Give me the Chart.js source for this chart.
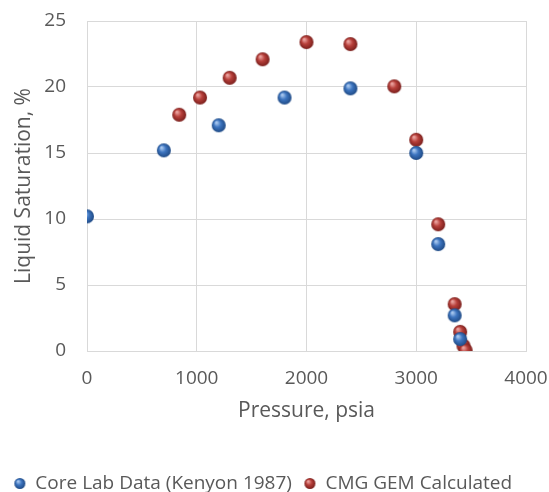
<!DOCTYPE html>
<html>
<head>
<meta charset="utf-8">
<script src="https://cdn.jsdelivr.net/npm/chart.js@4"></script>
<style>
  html, body { margin: 0; padding: 0; background: #fff; }
  #wrap { width: 549px; height: 492px; }
</style>
</head>
<body>
<div id="wrap"><canvas id="chart" width="549" height="492"></canvas></div>
<script>
// Données
const coreLabPressure = [0, 700, 1200, 1800, 2400, 3000, 3200, 3350, 3400];
const coreLabSat      = [10.2, 15.2, 17.1, 19.2, 19.9, 15.0, 8.1, 2.7, 0.9];

const gemPressure = [840, 1030, 1300, 1600, 2000, 2400, 2800, 3000, 3200, 3350, 3400, 3430, 3450];
const gemSat      = [17.9, 19.2, 20.7, 22.1, 23.4, 23.25, 20.05, 16.0, 9.6, 3.55, 1.45, 0.4, 0.05];

const xTicks = [0, 1000, 2000, 3000, 4000];
const yTicks = [0, 5, 10, 15, 20, 25];

const seriesNames = ['Core Lab Data (Kenyon 1987)', 'CMG GEM Calculated'];

// petite sphère façon Excel
function sphere(base, light, dark, r) {
  const c = document.createElement('canvas');
  const s = r * 2 + 2;
  c.width = s; c.height = s;
  const g = c.getContext('2d');
  const grad = g.createRadialGradient(s / 2 - r * 0.35, s / 2 - r * 0.4, r * 0.1, s / 2, s / 2, r);
  grad.addColorStop(0, light);
  grad.addColorStop(0.45, base);
  grad.addColorStop(1, dark);
  g.fillStyle = grad;
  g.beginPath();
  g.arc(s / 2, s / 2, r, 0, Math.PI * 2);
  g.fill();
  return c;
}

const blueBall = sphere('#3d75c0', '#a9c8ef', '#1f4a85', 7);
const redBall  = sphere('#b8403b', '#eba4a0', '#7a1f1c', 7);
const blueLeg  = sphere('#3d75c0', '#a9c8ef', '#1f4a85', 5.5);
const redLeg   = sphere('#b8403b', '#eba4a0', '#7a1f1c', 5.5);

const toPoints = (xs, ys) => xs.map((x, i) => ({ x: x, y: ys[i] }));

const textColor = '#595959';
const gridColor = '#d9d9d9';
const font = '"Open Sans", "DejaVu Sans", sans-serif';

new Chart(document.getElementById('chart'), {
  type: 'scatter',
  data: {
    datasets: [
      {
        label: seriesNames[0],
        data: toPoints(coreLabPressure, coreLabSat),
        pointStyle: blueBall,
        backgroundColor: '#3d75c0'
      },
      {
        label: seriesNames[1],
        data: toPoints(gemPressure, gemSat),
        pointStyle: redBall,
        backgroundColor: '#b8403b'
      }
    ]
  },
  options: {
    responsive: false,
    animation: false,
    layout: { padding: { top: 21, right: 23, left: 0, bottom: -11 } },
    plugins: {
      tooltip: { enabled: false },
      legend: {
        position: 'bottom',
        labels: {
          color: textColor,
          font: { family: font, size: 19 },
          usePointStyle: true,
          boxWidth: 12,
          boxHeight: 12,
          padding: 12,
          generateLabels: () => [
            { text: seriesNames[0], pointStyle: blueLeg, fontColor: textColor, datasetIndex: 0, lineWidth: 0, strokeStyle: 'transparent' },
            { text: seriesNames[1], pointStyle: redLeg, fontColor: textColor, datasetIndex: 1, lineWidth: 0, strokeStyle: 'transparent' }
          ]
        }
      }
    },
    scales: {
      x: {
        type: 'linear',
        min: 0,
        max: 4000,
        afterBuildTicks: s => { s.ticks = xTicks.map(v => ({ value: v })); },
        afterFit: s => { s.height = 111; s.paddingLeft = 0; s.paddingRight = 0; },
        grid: { color: gridColor, drawTicks: false },
        border: { color: gridColor },
        ticks: { color: textColor, font: { family: font, size: 19 }, padding: 16, callback: v => String(v) },
        title: { display: true, text: 'Pressure, psia', color: textColor, font: { family: font, size: 21 }, padding: { top: 6, bottom: 38 } }
      },
      y: {
        min: 0,
        max: 25,
        afterBuildTicks: s => { s.ticks = yTicks.map(v => ({ value: v })); },
        afterFit: s => { s.width = 87; s.paddingTop = 0; s.paddingBottom = 0; },
        grid: { color: gridColor, drawTicks: false },
        border: { color: gridColor },
        ticks: { color: textColor, font: { family: font, size: 19 }, padding: 21, callback: v => String(v) },
        title: { display: true, text: 'Liquid Saturation, %', color: textColor, font: { family: font, size: 21 }, padding: { top: 11, bottom: 0 } }
      }
    }
  }
});
</script>
</body>
</html>
